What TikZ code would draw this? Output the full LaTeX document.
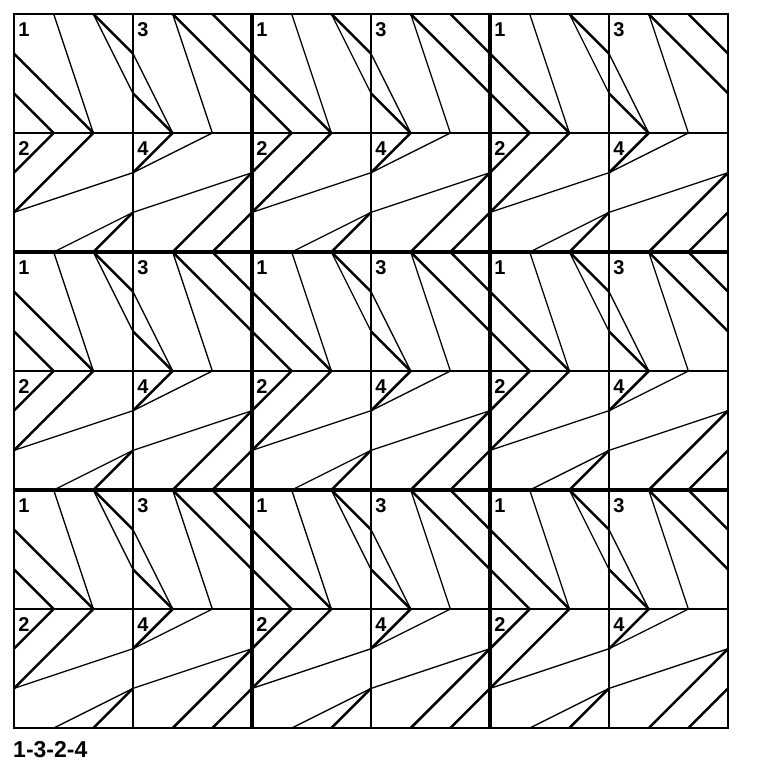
\documentclass[tikz,border=0pt]{standalone}
\usepackage{fontspec}
\newfontfamily\labelfont{Liberation Sans}

\begin{document}
\begin{tikzpicture}[x=19.833pt,y=-19.833pt]
\tikzset{tilegrid/.style = {line width=1pt}}
\tikzset{blockline/.style = {line width=1.6pt}}
\tikzset{thickcut/.style = {line width=1.25pt}}
\tikzset{thincut/.style = {line width=0.65pt}}
\tikzset{num/.style = {anchor=north west,inner sep=0pt,font=\labelfont\bfseries\fontsize{10}{12}\selectfont}}
\tikzset{chevron/.pic = {
  \draw[thickcut] (-1.5,-0.5) -- (0.5,1.5);
  \draw[thickcut] (-1.5,0.5) -- (-0.5,1.5);
  \draw[thickcut] (0.5,-1.5) -- (1.5,-0.5);
  \draw[thincut] (-0.5,-1.5) -- (0.5,1.5);
  \draw[thincut] (0.5,-1.5) -- (1.5,0.5);
}}

\useasboundingbox (-0.353,-0.353) rectangle (19.007,19.007);

% the four quarters of each block
\foreach \i in {0,1,2} {
  \foreach \j in {0,1,2} {
    \pic at (6*\i+1.5,6*\j+1.5) {chevron};
    \pic[rotate=180] at (6*\i+4.5,6*\j+1.5) {chevron};
    \pic[rotate=-90] at (6*\i+1.5,6*\j+4.5) {chevron};
    \pic[rotate=90] at (6*\i+4.5,6*\j+4.5) {chevron};
  }
}

% grid
\foreach \k in {3,9,15} {
  \draw[tilegrid] (\k,0) -- (\k,18);
  \draw[tilegrid] (0,\k) -- (18,\k);
}
\foreach \k in {6,12} {
  \draw[blockline] (\k,0) -- (\k,18);
  \draw[blockline] (0,\k) -- (18,\k);
}
\draw[tilegrid] (0,0) rectangle (18,18);

% numbers
\foreach \i in {0,1,2} {
  \foreach \j in {0,1,2} {
    \node[num] (a\i\j) at (6*\i+0.1,6*\j+0.21) {1};
    \node[num] (c\i\j) at (6*\i+3.1,6*\j+0.21) {3};
    \node[num] (b\i\j) at (6*\i+0.1,6*\j+3.21) {2};
    \node[num] (d\i\j) at (6*\i+3.1,6*\j+3.21) {4};
  }
}

\node[num,font=\labelfont\bfseries\fontsize{11.5}{14}\selectfont] (order) at (-0.03,18.32) {1-3-2-4};
\end{tikzpicture}
\end{document}
